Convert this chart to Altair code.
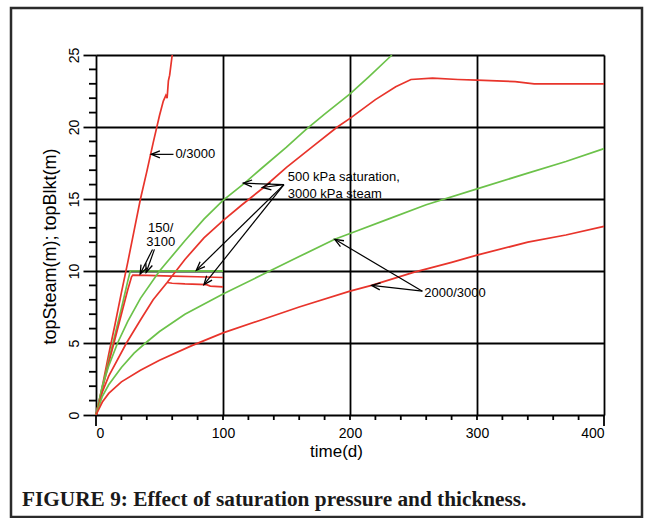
import math
import altair as alt
import pandas as pd

RED = "#e8342b"
GREEN = "#6cc24a"

# ---- series data (time in days, height in m) ----
t_0_3000 = [0, 5, 10, 15, 20, 25, 30, 35, 40, 45, 50, 53, 55, 56, 57, 58, 60]
v_0_3000 = [0, 2.0, 4.2, 6.3, 8.5, 10.6, 12.8, 15.0, 16.9, 18.9, 20.8, 21.8, 22.2, 22.0, 23.2, 23.6, 25.0]

t_150_g = [0, 5, 10, 15, 20, 25, 27, 40, 60, 80, 100]
v_150_g = [0, 1.9, 3.8, 5.6, 7.4, 9.3, 10.0, 10.0, 10.0, 10.0, 10.0]
t_150_r = [0, 5, 10, 15, 20, 25, 28, 29, 40, 60, 80, 100]
v_150_r = [0, 1.8, 3.6, 5.3, 7.0, 8.7, 9.6, 9.72, 9.7, 9.65, 9.6, 9.55]

t_500_g = [0, 5, 10, 17, 25, 35, 50, 70, 85, 100, 117, 130, 150, 165, 180, 200, 215, 233]
v_500_g = [0, 2.0, 3.4, 5.0, 6.5, 8.1, 10.0, 12.1, 13.6, 14.9, 16.1, 17.1, 18.6, 19.8, 20.9, 22.3, 23.5, 25.0]
t_500_r = [0, 5, 10, 24, 35, 45, 56, 70, 85, 100, 115, 132, 150, 170, 190, 200, 220, 236, 248, 265, 285, 300, 330, 345, 370, 400]
v_500_r = [0, 1.6, 2.7, 5.0, 6.6, 8.0, 9.2, 10.8, 12.3, 13.5, 14.6, 15.8, 17.2, 18.6, 20.0, 20.6, 21.9, 22.8, 23.3, 23.4, 23.3, 23.25, 23.15, 23.0, 23.0, 23.0]

t_500_g_thin = [50, 60, 80, 100]
v_500_g_thin = [10.0, 10.0, 10.0, 10.0]
t_500_r_thin = [56, 60, 70, 87, 90, 100]
v_500_r_thin = [9.2, 9.15, 9.1, 9.05, 8.95, 8.9]

t_2000_g = [0, 5, 10, 20, 30, 39, 50, 70, 100, 130, 160, 188, 200, 230, 260, 300, 340, 370, 400]
v_2000_g = [0, 1.3, 2.1, 3.3, 4.3, 5.0, 5.8, 7.0, 8.4, 9.7, 11.0, 12.2, 12.6, 13.6, 14.6, 15.7, 16.8, 17.6, 18.5]
t_2000_r = [0, 5, 10, 20, 35, 50, 75, 100, 130, 160, 200, 217, 250, 280, 300, 340, 370, 400]
v_2000_r = [0, 0.9, 1.5, 2.3, 3.1, 3.8, 4.8, 5.7, 6.6, 7.5, 8.6, 9.0, 9.9, 10.6, 11.1, 12.0, 12.5, 13.1]

series = [
    ("0/3000", RED, t_0_3000, v_0_3000),
    ("150g", GREEN, t_150_g, v_150_g),
    ("150r", RED, t_150_r, v_150_r),
    ("500g", GREEN, t_500_g, v_500_g),
    ("500r", RED, t_500_r, v_500_r),
    ("500g_thin", GREEN, t_500_g_thin, v_500_g_thin),
    ("500r_thin", RED, t_500_r_thin, v_500_r_thin),
    ("2000g", GREEN, t_2000_g, v_2000_g),
    ("2000r", RED, t_2000_r, v_2000_r),
]

# ---- annotations ----
label_left_text = ["0/3000", "500 kPa saturation,", "3000 kPa steam", "2000/3000"]
label_left_t = [62.5, 151, 151, 258.5]
label_left_v = [18.1, 16.5, 15.35, 8.5]
label_center_text = ["150/", "3100"]
label_center_t = [51, 51]
label_center_v = [13.0, 12.0]

arrow_from_t = [61, 44.5, 46, 148, 148, 148, 148, 257, 257]
arrow_from_v = [18.1, 11.5, 11.5, 16.0, 16.0, 16.0, 16.0, 8.6, 8.6]
arrow_to_t = [43.5, 34.8, 39.5, 116, 131, 79, 85, 188, 217]
arrow_to_v = [18.1, 9.8, 9.9, 16.1, 15.8, 10.05, 9.05, 12.2, 9.0]

x_grid_values = [0, 100, 200, 300, 400]
y_grid_values = [0, 5, 10, 15, 20, 25]
x_minor = [20, 40, 60, 80, 100, 120, 140, 160, 180, 200, 220, 240, 260, 280, 300, 320, 340, 360, 380]
x_major = [0, 400]
y_minor = [1, 2, 3, 4, 6, 7, 8, 9, 11, 12, 13, 14, 16, 17, 18, 19, 21, 22, 23, 24]

W, H = 508, 360
XMAX, YMAX = 400.0, 25.0

rows = []
for name, col, ts, vs in series:
    for t, v in zip(ts, vs):
        rows.append({"t": t, "v": v, "s": name, "c": col})
lines_df = pd.DataFrame(rows)

arr_rows = []
for a, b, c, d in zip(arrow_from_t, arrow_from_v, arrow_to_t, arrow_to_v):
    dx = (c - a) * W / XMAX
    dy = -(d - b) * H / YMAX
    ang = math.degrees(math.atan2(dy, dx)) % 360
    arr_rows.append({"x1": a, "y1": b, "x2": c, "y2": d, "ang": ang})
arr_df = pd.DataFrame(arr_rows)

lab_l = pd.DataFrame({"t": label_left_t, "v": label_left_v, "txt": label_left_text})
lab_c = pd.DataFrame({"t": label_center_t, "v": label_center_v, "txt": label_center_text})

xs = alt.Scale(domain=[0, 400], nice=False, zero=False)
ys = alt.Scale(domain=[0, 25], nice=False, zero=False)

xaxis = alt.Axis(values=x_grid_values, grid=True, gridColor="black", gridWidth=1.8,
                 gridOpacity=1, ticks=False, domain=False, labelFontSize=14,
                 labelFont="Liberation Sans", labelColor="black", labelPadding=11,
                 title="time(d)", titleFont="Liberation Sans", titleFontSize=17,
                 titleFontWeight="normal", titleColor="black", titleX=240, titleY=36,
                 titleBaseline="middle", titleAlign="center")
yaxis = alt.Axis(values=y_grid_values, grid=True, gridColor="black", gridWidth=1.8,
                 gridOpacity=1, ticks=True, tickSize=13, tickColor="black", tickWidth=1.8,
                 domain=False, labelFontSize=14, labelFont="Liberation Sans",
                 labelColor="black", labelAngle=270, labelAlign="center",
                 labelBaseline="bottom", labelPadding=2,
                 title="topSteam(m); topBlkt(m)", titleFont="Liberation Sans",
                 titleFontSize=18, titleFontWeight="normal", titleColor="black",
                 titleX=-46, titleY=191, titleAngle=270, titleBaseline="middle",
                 titleAlign="center")

lines = alt.Chart(lines_df).mark_line(strokeWidth=1.7).encode(
    x=alt.X("t:Q", scale=xs, axis=xaxis),
    y=alt.Y("v:Q", scale=ys, axis=yaxis),
    color=alt.Color("c:N", scale=None),
    detail="s:N",
)

rules = alt.Chart(arr_df).mark_rule(color="black", strokeWidth=1.2).encode(
    x=alt.X("x1:Q", scale=xs, axis=xaxis), y=alt.Y("y1:Q", scale=ys, axis=yaxis),
    x2="x2:Q", y2="y2:Q",
)
heads = alt.Chart(arr_df).mark_point(
    shape="M -1 -0.4 L 0 0 L -1 0.4", filled=False, size=300, color="black",
    strokeWidth=1.3, opacity=1,
).encode(
    x=alt.X("x2:Q", scale=xs, axis=xaxis), y=alt.Y("y2:Q", scale=ys, axis=yaxis),
    angle=alt.Angle("ang:Q", scale=None),
)

txt_l = alt.Chart(lab_l).mark_text(align="left", baseline="middle", font="Liberation Sans",
                                   fontSize=13, color="black").encode(
    x=alt.X("t:Q", scale=xs, axis=xaxis), y=alt.Y("v:Q", scale=ys, axis=yaxis), text="txt:N")
txt_c = alt.Chart(lab_c).mark_text(align="center", baseline="middle", font="Liberation Sans",
                                   fontSize=13, color="black").encode(
    x=alt.X("t:Q", scale=xs, axis=xaxis), y=alt.Y("v:Q", scale=ys, axis=yaxis), text="txt:N")

xminor = alt.Chart(pd.DataFrame({"t": x_minor})).mark_rule(color="black", strokeWidth=1.8).encode(
    x=alt.X("t:Q", scale=xs, axis=xaxis), y=alt.value(H), y2=alt.value(H + 5))
xmajor = alt.Chart(pd.DataFrame({"t": x_major})).mark_rule(color="black", strokeWidth=1.8).encode(
    x=alt.X("t:Q", scale=xs, axis=xaxis), y=alt.value(H), y2=alt.value(H + 11))
yminor = alt.Chart(pd.DataFrame({"v": y_minor})).mark_rule(color="black", strokeWidth=1.8).encode(
    y=alt.Y("v:Q", scale=ys, axis=yaxis), x=alt.value(-7), x2=alt.value(0))

border = alt.Chart(alt.Data(values=[{}])).mark_rect(
    fillOpacity=0, stroke="#2b2b2b", strokeWidth=2.5).encode(
    x=alt.value(-85), x2=alt.value(546), y=alt.value(-47), y2=alt.value(462))

caption = alt.Chart(alt.Data(values=[{}])).mark_text(
    align="left", baseline="middle", font="Liberation Serif", fontWeight="bold",
    fontSize=21.3, color="#1a1a1a").encode(
    x=alt.value(-74), y=alt.value(445),
    text=alt.value("FIGURE 9: Effect of saturation pressure and thickness."))

chart = alt.layer(
    lines, xminor, xmajor, yminor, rules, heads, txt_l, txt_c, border, caption
).properties(
    width=W, height=H,
    autosize=alt.AutoSizeParams(type="none"),
    padding={"left": 96, "top": 55, "right": 43, "bottom": 103},
).configure_view(
    stroke="black", strokeWidth=2, cornerRadius=7
).configure(background="white")

chart.save("out.html", embed_options={"renderer": "svg", "actions": False})
